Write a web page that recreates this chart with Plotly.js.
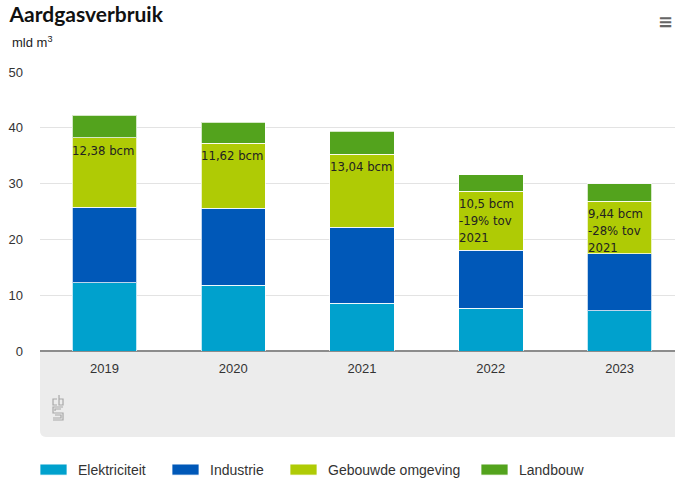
<!DOCTYPE html>
<html>
<head>
<meta charset="utf-8">
<script src="https://cdn.plot.ly/plotly-3.0.1.min.js"></script>
<style>
html,body{margin:0;padding:0;background:#fff;}
#chart{width:675px;height:479px;}
</style>
</head>
<body>
<div id="chart"></div>
<script>
const years = ['2019', '2020', '2021', '2022', '2023'];
const elektriciteit = [12.2, 11.8, 8.6, 7.7, 7.2];
const industrie = [13.6, 13.8, 13.6, 10.4, 10.2];
const gebouwdeOmgeving = [12.38, 11.62, 13.04, 10.5, 9.44];
const landbouw = [4.1, 3.8, 4.1, 3.0, 3.1];
const seriesNames = ['Elektriciteit', 'Industrie', 'Gebouwde omgeving', 'Landbouw'];
const seriesColors = ['#00a1cd', '#0058b8', '#afcb05', '#53a31d'];
const labelTexts = ['12,38 bcm', '11,62 bcm', '13,04 bcm', '10,5 bcm<br>-19% tov<br>2021', '9,44 bcm<br>-28% tov<br>2021'];
const yTicks = [0, 10, 20, 30, 40, 50];

const FONT = '"Liberation Sans Narrow", "Liberation Sans", Arial, sans-serif';
const seriesValues = [elektriciteit, industrie, gebouwdeOmgeving, landbouw];
const legendIds = ['legend', 'legend2', 'legend3', 'legend4'];
const legendX = [38, 170, 288, 479]; // pixel positions of legend entries

const traces = seriesValues.map((vals, i) => ({
  type: 'bar',
  name: seriesNames[i],
  x: years,
  y: vals,
  legend: legendIds[i],
  marker: {color: seriesColors[i], line: {color: 'rgba(255,255,255,0.75)', width: 1}},
  hoverinfo: 'x+y+name'
}));

const annotations = years.map((yr, i) => ({
  x: i, xref: 'x',
  y: elektriciteit[i] + industrie[i] + gebouwdeOmgeving[i],
  yref: 'y',
  text: labelTexts[i],
  showarrow: false,
  xanchor: 'left', yanchor: 'top',
  align: 'left',
  xshift: -34, yshift: -3,
  font: {family: '"DejaVu Sans Condensed", "DejaVu Sans", Verdana, sans-serif', size: 13, color: '#222'}
}));

annotations.push({
  xref: 'paper', yref: 'paper', x: -0.047, y: 1.07,
  xanchor: 'left', yanchor: 'bottom',
  text: 'mld m<sup>3</sup>', showarrow: false,
  font: {family: FONT, size: 13, color: '#222'}
});
annotations.push({
  xref: 'paper', yref: 'paper', x: 1.0, y: 1.18,
  xanchor: 'right', yanchor: 'middle',
  text: '<b>≡</b>', showarrow: false,
  font: {family: 'DejaVu Sans', size: 18, color: '#666'}
});

const shapes = [
  {type: 'path', xref: 'paper', yref: 'paper', layer: 'below',
   path: 'M 0,0 L 1.01,0 L 1.01,-0.308 L 0.0095,-0.308 Q 0,-0.308 0,-0.286 Z',
   fillcolor: '#ececec', line: {width: 0}},
  // CBS logo outline
  {type: 'path', xref: 'paper', yref: 'paper', xsizemode: 'pixel', ysizemode: 'pixel',
   xanchor: 0.0205, yanchor: -0.1577,
   path: 'M4,-4 L0,-4 L0,-10 L4,-10 M6,0 L6,-10 L10,-10 L10,-4 L6,-4 M10,-12 L0,-12 L0,-18 L10,-18 L10,-25 L0,-25 M8,-14 L2,-14 L2,-16 M2,-20 L8,-20 L8,-23 L0,-23',
   line: {color: '#a8a8a8', width: 1.2}}
];

const layout = {
  width: 675, height: 479,
  margin: {l: 40, r: 0, t: 72, b: 128, autoexpand: false},
  paper_bgcolor: '#fff', plot_bgcolor: '#fff',
  barmode: 'stack',
  bargap: 0.5,
  title: {text: '<b>Aardgasverbruik</b>', x: 0.014, xanchor: 'left', y: 0.985, yanchor: 'top',
          font: {family: '"Lato", "Liberation Sans", sans-serif', size: 21, color: '#111'}},
  xaxis: {
    type: 'category', range: [-0.5, 4.43], tickvals: years, ticktext: years,
    showgrid: false, showline: false, zeroline: false, ticks: '',
    tickfont: {family: FONT, size: 13, color: '#333'}, ticklabelstandoff: 8,
    fixedrange: true
  },
  yaxis: {
    range: [0, 50], tickvals: yTicks, ticktext: yTicks.map(String),
    showgrid: true, gridcolor: '#e3e3e3', gridwidth: 1,
    zeroline: true, zerolinecolor: '#8c8c8c', zerolinewidth: 2,
    ticks: '', tickfont: {family: FONT, size: 13, color: '#333'},
    ticklabelstandoff: 16, fixedrange: true
  },
  showlegend: true,
  annotations: annotations,
  shapes: shapes
};

legendIds.forEach((id, i) => {
  layout[id] = {
    orientation: 'h', x: (legendX[i] - 40) / 635, xanchor: 'left',
    y: -0.4265, yanchor: 'middle',
    font: {family: FONT, size: 14, color: '#333'},
    bgcolor: 'rgba(0,0,0,0)',
    itemclick: false, itemdoubleclick: false
  };
});

Plotly.newPlot('chart', traces, layout, {displayModeBar: false}).then(() => {
  document.querySelectorAll('#chart .legendpoints path').forEach(p => {
    p.setAttribute('d', 'M-18,5.5H9V-5.5H-18Z');
  });
});
</script>
</body>
</html>
